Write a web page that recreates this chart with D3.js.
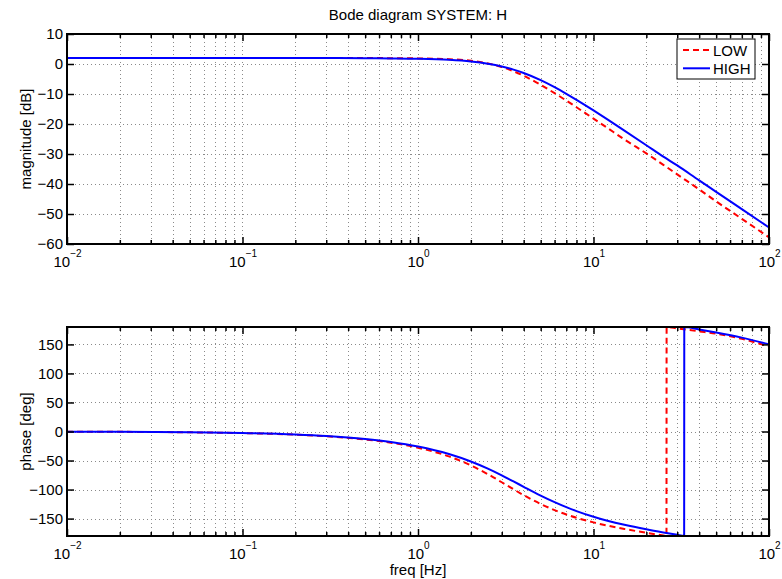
<!DOCTYPE html>
<html>
<head>
<meta charset="utf-8">
<script src="https://cdn.jsdelivr.net/npm/d3@7"></script>
<style>
  body { margin: 0; background: #fff; }
  svg { display: block; }
  text { font-family: "Liberation Sans", Arial, Helvetica, sans-serif; }
</style>
</head>
<body>
<svg id="chart" width="782" height="579"></svg>
<script>
// ---- data: frequency response of system H, two parameter sets ----
const seriesNames = ["LOW", "HIGH"];

// magnitude [dB] sampled at these frequencies [Hz]
const magFreq = [0.01, 0.02, 0.05, 0.1, 0.2, 0.3, 0.5, 0.7, 1, 1.5, 2, 2.5, 3, 3.5, 4, 5, 6, 7, 8, 10, 12, 15, 20, 25, 30, 40, 50, 70, 100];
const lowMag  = [2.0, 2.0, 2.0, 2.0, 2.0, 1.99, 1.98, 1.95, 1.87, 1.61, 1.07, 0.19, -1.0, -2.41, -3.92, -6.94, -9.72, -12.2, -14.42, -18.19, -21.31, -25.16, -29.8, -33.6, -36.8, -41.8, -45.8, -51.6, -57.8];
const highMag = [2.0, 2.0, 2.0, 2.0, 1.99, 1.98, 1.94, 1.87, 1.74, 1.38, 0.83, 0.09, -0.82, -1.87, -3.02, -5.4, -7.74, -9.93, -11.94, -15.46, -18.45, -22.18, -27.07, -30.9, -33.8, -38.8, -42.6, -48.4, -54.5];

// phase [deg], wrapped to (-180, 180]
const lowPhaseFreq  = [0.01, 0.02, 0.05, 0.1, 0.2, 0.3, 0.5, 0.7, 1, 1.5, 2, 2.5, 3, 3.5, 4, 5, 6, 7, 8, 10, 12, 15, 20, 25, 26.05, 26.1, 30, 40, 50, 70, 100];
const lowPhase      = [-0.28, -0.55, -1.37, -2.73, -5.47, -8.22, -13.75, -19.36, -27.98, -42.93, -58.36, -73.49, -87.41, -99.5, -109.62, -124.87, -135.35, -142.88, -148.56, -156.56, -162.07, -167.89, -174.43, -179.11, -179.95, 179.95, 177.5, 172.5, 168.5, 159.5, 146.5];
const highPhaseFreq = [0.01, 0.02, 0.05, 0.1, 0.2, 0.3, 0.5, 0.7, 1, 1.5, 2, 2.5, 3, 3.5, 4, 5, 6, 7, 8, 10, 12, 15, 20, 25, 30, 32.85, 32.9, 40, 50, 70, 100];
const highPhase     = [-0.25, -0.5, -1.29, -2.58, -5.16, -7.74, -12.91, -18.1, -25.88, -38.86, -51.7, -63.98, -75.5, -85.94, -95.2, -110.33, -121.69, -130.34, -137.07, -146.83, -153.6, -160.71, -168.49, -173.84, -177.95, -179.95, 179.95, 175.65, 170.47, 161.66, 150.02];

// axis ticks
const freqMajorTicks = [0.01, 0.1, 1, 10, 100];
const freqExponents  = ["\u22122", "\u22121", "0", "1", "2"];
const magTicks   = [-60, -50, -40, -30, -20, -10, 0, 10];
const phaseTicks = [-150, -100, -50, 0, 50, 100, 150];

// ---- layout ----
const svg = d3.select("#chart");
const FONT = 15;
const plotLeft = 67, plotRight = 769;
const panels = [
  { top: 34,  bottom: 244, domain: [-60, 10],   ticks: magTicks,   label: "magnitude [dB]", id: "mag" },
  { top: 327, bottom: 536, domain: [-180, 180], ticks: phaseTicks, label: "phase [deg]",    id: "ph" }
];
const colors = { LOW: "#ff0000", HIGH: "#0000ff" };
const dashes = { LOW: "6,4", HIGH: null };

const x = d3.scaleLog().domain([0.01, 100]).range([plotLeft, plotRight]);
const isDecade = v => Math.abs(Math.log10(v) - Math.round(Math.log10(v))) < 1e-6;
const allFreqTicks = x.ticks();
const minorFreqTicks = allFreqTicks.filter(v => !isDecade(v));

svg.append("rect").attr("width", 782).attr("height", 579).attr("fill", "#fff");

function drawPanel(p, series) {
  const y = d3.scaleLinear().domain(p.domain).range([p.bottom, p.top]);
  const g = svg.append("g");
  const w = plotRight - plotLeft, h = p.bottom - p.top;

  g.append("clipPath").attr("id", "clip-" + p.id)
    .append("rect").attr("x", plotLeft).attr("y", p.top).attr("width", w).attr("height", h);

  // dotted grid: every log tick vertically, major y ticks horizontally
  const grid = g.append("g").attr("stroke", "#8a8a8a").attr("stroke-width", 1)
    .attr("stroke-dasharray", "1,3").attr("shape-rendering", "crispEdges");
  grid.selectAll("line.v").data(allFreqTicks.filter(v => v > 0.01 + 1e-9 && v < 100 - 1e-9))
    .join("line").attr("class", "v")
    .attr("x1", d => Math.round(x(d)) + 0.5).attr("x2", d => Math.round(x(d)) + 0.5)
    .attr("y1", p.top).attr("y2", p.bottom);
  grid.selectAll("line.h").data(p.ticks.filter(v => v > p.domain[0] && v < p.domain[1]))
    .join("line").attr("class", "h")
    .attr("y1", d => Math.round(y(d)) + 0.5).attr("y2", d => Math.round(y(d)) + 0.5)
    .attr("x1", plotLeft).attr("x2", plotRight);

  // curves
  const line = d3.line().x(d => x(d[0])).y(d => y(d[1])).curve(d3.curveMonotoneX);
  const curves = g.append("g").attr("clip-path", `url(#clip-${p.id})`);
  series.forEach(s => {
    curves.append("path")
      .attr("d", line(d3.zip(s.freq, s.values)))
      .attr("fill", "none")
      .attr("stroke", colors[s.name])
      .attr("stroke-width", 2)
      .attr("stroke-dasharray", dashes[s.name]);
  });

  // ticks (inward) on all four sides
  const axisStyle = sel => {
    sel.select(".domain").remove();
    sel.selectAll(".tick line").attr("stroke", "#000").attr("stroke-width", 1.5);
  };
  g.append("g").attr("transform", `translate(0,${p.bottom})`)
    .call(d3.axisBottom(x).tickValues(minorFreqTicks).tickSize(-4).tickFormat(""))
    .call(axisStyle);
  g.append("g").attr("transform", `translate(0,${p.top})`)
    .call(d3.axisTop(x).tickValues(minorFreqTicks).tickSize(-4).tickFormat(""))
    .call(axisStyle);
  g.append("g").attr("transform", `translate(0,${p.top})`)
    .call(d3.axisTop(x).tickValues(freqMajorTicks).tickSize(-7).tickFormat(""))
    .call(axisStyle);
  const xb = g.append("g").attr("transform", `translate(0,${p.bottom})`)
    .call(d3.axisBottom(x).tickValues(freqMajorTicks).tickSize(-7))
    .call(axisStyle);
  xb.attr("font-size", FONT).attr("font-family", null);
  xb.selectAll(".tick text").each(function (d, i) {
    const t = d3.select(this).attr("y", 23).attr("dy", null).attr("fill", "#000");
    t.text(null);
    t.append("tspan").text("10");
    t.append("tspan").attr("dy", -10).attr("font-size", 10).text(freqExponents[i]);
  });

  const yl = g.append("g").attr("transform", `translate(${plotLeft},0)`)
    .call(d3.axisLeft(y).tickValues(p.ticks).tickSize(-7).tickPadding(4).tickFormat(d3.format("d")))
    .call(axisStyle);
  yl.attr("font-size", FONT).attr("font-family", null);
  yl.selectAll(".tick text").attr("fill", "#000");
  g.append("g").attr("transform", `translate(${plotRight},0)`)
    .call(d3.axisRight(y).tickValues(p.ticks).tickSize(-7).tickFormat(""))
    .call(axisStyle);

  // frame
  g.append("rect").attr("x", plotLeft).attr("y", p.top).attr("width", w).attr("height", h)
    .attr("fill", "none").attr("stroke", "#000").attr("stroke-width", 2);

  // y label
  g.append("text")
    .attr("transform", `translate(31,${(p.top + p.bottom) / 2}) rotate(-90)`)
    .attr("text-anchor", "middle").attr("font-size", FONT).attr("fill", "#000")
    .text(p.label);
  return { g, y };
}

drawPanel(panels[0], [
  { name: "LOW",  freq: magFreq, values: lowMag },
  { name: "HIGH", freq: magFreq, values: highMag }
]);
drawPanel(panels[1], [
  { name: "LOW",  freq: lowPhaseFreq,  values: lowPhase },
  { name: "HIGH", freq: highPhaseFreq, values: highPhase }
]);

// title and x label
svg.append("text").attr("x", (plotLeft + plotRight) / 2).attr("y", 20)
  .attr("text-anchor", "middle").attr("font-size", FONT).attr("fill", "#000")
  .text("Bode diagram SYSTEM: H");
svg.append("text").attr("x", (plotLeft + plotRight) / 2).attr("y", 575)
  .attr("text-anchor", "middle").attr("font-size", FONT).attr("fill", "#000")
  .text("freq [Hz]");

// legend
const legend = svg.append("g").attr("transform", "translate(677,39)");
legend.append("rect").attr("width", 78).attr("height", 40)
  .attr("fill", "#fff").attr("stroke", "#000").attr("stroke-width", 1);
seriesNames.forEach((name, i) => {
  const ly = 11 + i * 18.3;
  legend.append("line").attr("x1", 6).attr("x2", 33).attr("y1", ly).attr("y2", ly)
    .attr("stroke", colors[name]).attr("stroke-width", 2).attr("stroke-dasharray", dashes[name]);
  legend.append("text").attr("x", 36).attr("y", ly + 5.5)
    .attr("font-size", FONT).attr("fill", "#000").text(name);
});
</script>
</body>
</html>
